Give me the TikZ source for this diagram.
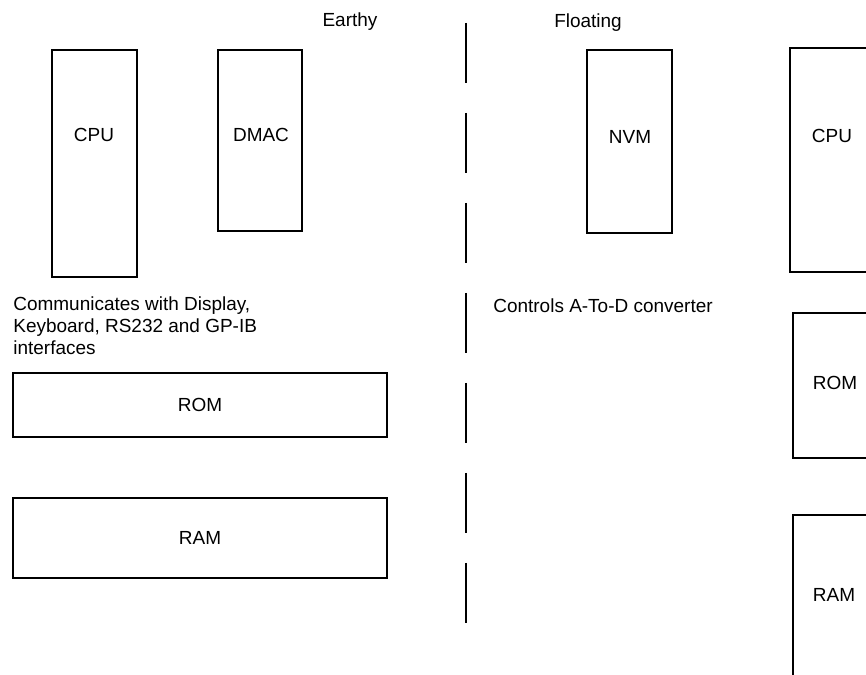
\documentclass[tikz,border=0pt]{standalone}
\usepackage{fontspec}
\setmainfont{Liberation Sans}
\usepackage{tikz}
\usetikzlibrary{positioning}
\tikzset{
  % A chip on the board: an empty outlined box, width / height
  chip/.style 2 args={
    draw=black, line width=1.3pt, rectangle, inner sep=0pt, outer sep=0pt,
    minimum width=#1, minimum height=#2},
  % The name written inside a chip
  chiplbl/.style={inner sep=0pt, font=\chipfont},
  % Free text under the chips
  note/.style={inner sep=0pt, align=left, anchor=north west, font=\chipfont},
  % Heading of one side of the board
  side/.style={inner sep=0pt, anchor=base, font=\chipfont},
  % Line between the two sides
  divider/.style={draw=black, line width=1.4pt, dash pattern=on 1.2cm off 0.6cm},
}
\newcommand{\chipfont}{\fontsize{10.8}{12.6}\selectfont}

\begin{document}
\begin{tikzpicture}[x=0.02cm, y=-0.02cm]

  \useasboundingbox (0,0) rectangle (866,675);
  \clip (0,0) rectangle (866,675);

  \node[side] (earthy) at (350,27) {Earthy};
  \node[side] (floating) at (588,28) {Floating};

  \coordinate (divtop) at (466,23);
  \coordinate (divbot) at (466,623);
  \draw[divider] (divtop) -- (divbot);

  % earthy side
  \node[chip={1.7cm}{4.54cm}] (cpuL) at (94.5,163.5) {};
  \node[chiplbl] (cpuLtxt) at (94,135) {CPU};
  \node[chip={1.68cm}{3.62cm}] (dmac) at (260,140.5) {};
  \node[chiplbl] (dmactxt) at (261,135) {DMAC};

  \node[note] (earthynote) at (13,296)
    {Communicates with Display,\\Keyboard, RS232 and GP-IB\\interfaces};

  \node[chip={7.48cm}{1.28cm}, font=\chipfont] (romL) at (200,405) {ROM};
  \node[chip={7.48cm}{1.6cm}, font=\chipfont] (ramL) at (200,538) {RAM};

  % floating side
  \node[chip={1.7cm}{3.66cm}] (nvm) at (629.5,141.5) {};
  \node[chiplbl] (nvmtxt) at (630,137) {NVM};

  \node[note] (floatnote) at (493,298) {Controls A-To-D converter};

  \node[chip={1.7cm}{4.48cm}] (cpuR) at (832.5,160) {};
  \node[chiplbl] (cpuRtxt) at (832,136) {CPU};
  \node[chip={1.7cm}{2.9cm}] (romR) at (835.5,385.5) {};
  \node[chiplbl] (romRtxt) at (835,383) {ROM};
  \node[chip={1.7cm}{5cm}] (ramR) at (835.5,640) {};
  \node[chiplbl] (ramRtxt) at (834,595) {RAM};

\end{tikzpicture}
\end{document}
